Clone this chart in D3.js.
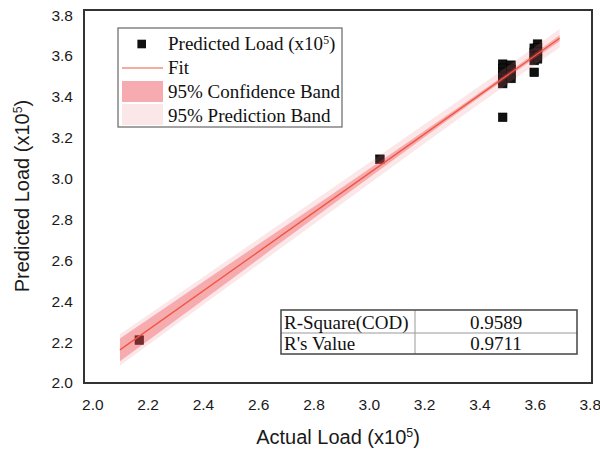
<!DOCTYPE html>
<html><head><meta charset="utf-8">
<script src="https://cdn.jsdelivr.net/npm/d3@7"></script>
<style>body{margin:0;background:#fff}svg{display:block}</style>
</head><body>
<svg id="c" width="600" height="452"></svg>
<script>
// ---- data ----
const actualLoad    = [2.17, 3.04, 3.484, 3.484, 3.484, 3.484, 3.484, 3.484, 3.484, 3.514, 3.514, 3.514, 3.514, 3.598, 3.598, 3.598, 3.598, 3.598, 3.61, 3.61, 3.61, 3.61, 3.61];
const predictedLoad = [2.21, 3.095, 3.30, 3.56, 3.54, 3.52, 3.50, 3.48, 3.465, 3.555, 3.535, 3.51, 3.49, 3.52, 3.638, 3.618, 3.598, 3.578, 3.658, 3.64, 3.62, 3.60, 3.586];
const fitX = [2.10, 3.69];
const fitY = [2.162, 3.687];
const bandX        = [2.10, 2.40, 2.70, 3.04, 3.25, 3.45, 3.69];
const confHalf     = [0.056, 0.045, 0.032, 0.020, 0.014, 0.011, 0.015];
const predHalf     = [0.076, 0.068, 0.060, 0.051, 0.046, 0.043, 0.045];
const tickValues = [2.0, 2.2, 2.4, 2.6, 2.8, 3.0, 3.2, 3.4, 3.6, 3.8];
const legendLabels = ["Predicted Load (x10", "Fit", "95% Confidence Band", "95% Prediction Band"];
const statNames  = ["R-Square(COD)", "R's Value"];
const statValues = ["0.9589", "0.9711"];

const svg = d3.select("#c");
const SANS = "'Liberation Sans', Arial, sans-serif";
const SERIF = "'Liberation Serif', 'Times New Roman', serif";

const x = d3.scaleLinear().domain([1.97, 3.807]).range([84, 592]);
const y = d3.scaleLinear().domain([2.0, 3.825]).range([383, 10]);

const fitAt = v => fitY[0] + (v - fitX[0]) * (fitY[1] - fitY[0]) / (fitX[1] - fitX[0]);

// points (drawn under the translucent bands)
const S = 8.6;
svg.append("g").selectAll("rect").data(actualLoad).join("rect")
  .attr("x", (d,i) => x(d) - S/2).attr("y", (d,i) => y(predictedLoad[i]) - S/2)
  .attr("width", S).attr("height", S)
  .attr("fill", "#111").attr("stroke", "#000").attr("stroke-width", 0.6);

// bands
const bandArea = half => d3.area()
  .x((d) => x(d))
  .y0((d,i) => y(fitAt(d) - half[i]))
  .y1((d,i) => y(fitAt(d) + half[i]))
  .curve(d3.curveMonotoneX);
svg.append("path").datum(bandX).attr("d", bandArea(predHalf))
  .attr("fill", "rgb(240,120,130)").attr("fill-opacity", 0.18);
svg.append("path").datum(bandX).attr("d", bandArea(confHalf))
  .attr("fill", "rgb(235,60,70)").attr("fill-opacity", 0.35);

// fit line
svg.append("line")
  .attr("x1", x(fitX[0])).attr("y1", y(fitY[0]))
  .attr("x2", x(fitX[1])).attr("y2", y(fitY[1]))
  .attr("stroke", "#f0553f").attr("stroke-width", 1.3);

// frame
svg.append("rect").attr("x", 84).attr("y", 10).attr("width", 508).attr("height", 373)
  .attr("fill", "none").attr("stroke", "#333").attr("stroke-width", 2);

// axes
const xa = svg.append("g").attr("transform", "translate(0,383)")
  .call(d3.axisBottom(x).tickValues(tickValues).tickFormat(d3.format(".1f")).tickSize(0).tickPadding(16));
const ya = svg.append("g").attr("transform", "translate(84,0)")
  .call(d3.axisLeft(y).tickValues(tickValues).tickFormat(d3.format(".1f")).tickSize(0).tickPadding(11));
[xa, ya].forEach(g => {
  g.select(".domain").remove();
  g.selectAll("text").attr("font-family", SANS).attr("font-size", 15.5).attr("fill", "#1a1a1a");
});
// keep the last x label inside the window
xa.selectAll(".tick text").filter(d => d === 3.8).attr("text-anchor", "end").attr("dx", 10.5);

// axis titles
function titleWithSup(sel, main) {
  sel.append("tspan").text(main);
  sel.append("tspan").attr("font-size", "0.62em").attr("dy", "-0.55em").text("5");
  sel.append("tspan").attr("dy", "0.34em").text(")");
}
const xt = svg.append("text").attr("x", 338).attr("y", 444).attr("text-anchor", "middle")
  .attr("font-family", SANS).attr("font-size", 20).attr("fill", "#1a1a1a");
titleWithSup(xt, "Actual Load (x10");
const yt = svg.append("text").attr("transform", "translate(29,196) rotate(-90)").attr("text-anchor", "middle")
  .attr("font-family", SANS).attr("font-size", 20).attr("fill", "#1a1a1a");
titleWithSup(yt, "Predicted Load (x10");

// legend
const lg = svg.append("g");
lg.append("rect").attr("x", 118).attr("y", 28).attr("width", 224).attr("height", 99)
  .attr("fill", "#fff").attr("stroke", "#666").attr("stroke-width", 1.2);
lg.append("rect").attr("x", 141.7 - 4.3).attr("y", 44 - 4.3).attr("width", 8.6).attr("height", 8.6).attr("fill", "#111");
lg.append("line").attr("x1", 122).attr("x2", 163).attr("y1", 68).attr("y2", 68)
  .attr("stroke", "#f2907e").attr("stroke-width", 1.3);
lg.append("rect").attr("x", 122).attr("y", 81).attr("width", 41).attr("height", 21).attr("fill", "#f5abaf");
lg.append("rect").attr("x", 122).attr("y", 104).attr("width", 41).attr("height", 21).attr("fill", "#fce7e8");
const baselines = [50, 74, 98, 122];
legendLabels.forEach((t, i) => {
  const tx = lg.append("text").attr("x", 168).attr("y", baselines[i])
    .attr("font-family", SERIF).attr("font-size", 19).attr("fill", "#111");
  if (i === 0) {
    tx.append("tspan").text(t);
    tx.append("tspan").attr("font-size", "0.62em").attr("dy", "-0.55em").text("5");
    tx.append("tspan").attr("dy", "0.34em").text(")");
  } else tx.text(t);
});

// stats table
const tb = svg.append("g");
tb.append("rect").attr("x", 281).attr("y", 310).attr("width", 296).attr("height", 44).attr("fill", "#fff");
tb.append("line").attr("x1", 415).attr("x2", 415).attr("y1", 310).attr("y2", 354).attr("stroke", "#999").attr("stroke-width", 1);
tb.append("line").attr("x1", 281).attr("x2", 577).attr("y1", 333).attr("y2", 333).attr("stroke", "#999").attr("stroke-width", 1);
tb.append("rect").attr("x", 281).attr("y", 310).attr("width", 296).attr("height", 44)
  .attr("fill", "none").attr("stroke", "#444").attr("stroke-width", 1.5);
const rowBase = [328.5, 350];
statNames.forEach((n, i) => {
  tb.append("text").attr("x", 284).attr("y", rowBase[i]).attr("font-family", SERIF).attr("font-size", 19).attr("fill", "#111").text(n);
  tb.append("text").attr("x", 496).attr("y", rowBase[i]).attr("text-anchor", "middle").attr("font-family", SERIF).attr("font-size", 19).attr("fill", "#111").text(statValues[i]);
});
</script>
</body></html>
